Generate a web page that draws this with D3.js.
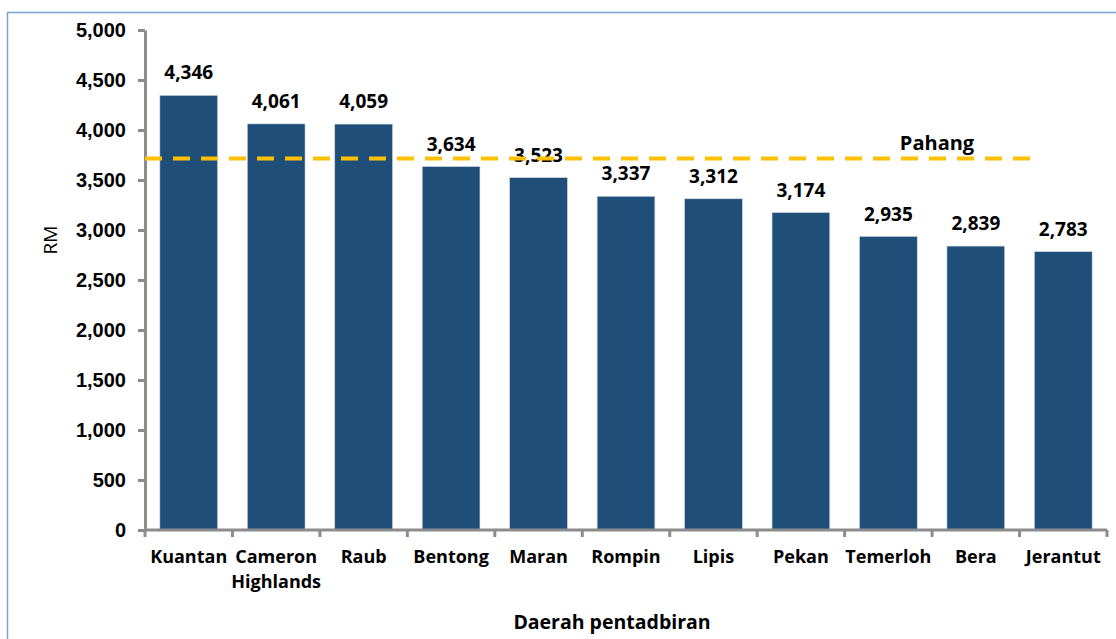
<!DOCTYPE html>
<html>
<head>
<meta charset="utf-8">
<script src="https://cdn.jsdelivr.net/npm/d3@7"></script>
<style>
  body { margin: 0; background: #fff; }
  svg { display: block; font-family: "Open Sans", Lato, sans-serif; }
</style>
</head>
<body>
<div id="chart"></div>
<script>
// data
const districts = ["Kuantan", "Cameron Highlands", "Raub", "Bentong", "Maran", "Rompin",
    "Lipis", "Pekan", "Temerloh", "Bera", "Jerantut"];
const income = [4346, 4061, 4059, 3634, 3523, 3337, 3312, 3174, 2935, 2839, 2783];
const pahangValue = 3715;
const pahangLabel = "Pahang";
const yTicks = [0, 500, 1000, 1500, 2000, 2500, 3000, 3500, 4000, 4500, 5000];

const width = 1116, height = 639;
const margin = { top: 30, left: 145, right: 9, bottom: 109 };
const innerW = width - margin.left - margin.right;
const innerH = height - margin.top - margin.bottom;

const svg = d3.select("#chart").append("svg")
    .attr("width", width)
    .attr("height", height);

// outer frame
svg.append("rect")
    .attr("x", 7.5).attr("y", 12.5)
    .attr("width", width).attr("height", height)
    .attr("fill", "none")
    .attr("stroke", "#7aa3d1")
    .attr("stroke-width", 1.5);

const chart = svg.append("g")
    .attr("transform", `translate(${margin.left},${margin.top})`);

const x = d3.scaleBand()
    .domain(districts)
    .range([0, innerW])
    .paddingInner(0.34)
    .paddingOuter(0.17);

const y = d3.scaleLinear()
    .domain([0, 5000])
    .range([innerH, 0]);

// bars
chart.selectAll(".bar")
    .data(districts)
    .join("rect")
    .attr("class", "bar")
    .attr("x", d => x(d))
    .attr("y", (d, i) => y(income[i]))
    .attr("width", x.bandwidth())
    .attr("height", (d, i) => innerH - y(income[i]))
    .attr("fill", "#1f4e79")
    .attr("stroke", "#c9d3e0")
    .attr("stroke-width", 0.6);

// value labels
chart.selectAll(".val")
    .data(districts)
    .join("text")
    .attr("class", "val")
    .attr("x", d => x(d) + x.bandwidth() / 2)
    .attr("y", (d, i) => y(income[i]) - 16)
    .attr("text-anchor", "middle")
    .style("font-size", "19px")
    .style("font-weight", "bold")
    .text((d, i) => d3.format(",")(income[i]));

// y axis
const yAxis = d3.axisLeft(y)
    .tickValues(yTicks)
    .tickFormat(d3.format(","))
    .tickSize(7)
    .tickSizeOuter(0)
    .tickPadding(12);

const yAxisGroup = chart.append("g").call(yAxis);
yAxisGroup.selectAll("text")
    .style("font-size", "20px")
    .style("font-weight", "bold")
    .attr("fill", "#000");
yAxisGroup.selectAll("line, path")
    .attr("stroke", "#8c8c8c")
    .attr("stroke-width", 3);

// x axis: ticks at the band boundaries
const boundaries = d3.range(districts.length + 1).map(i => i * innerW / districts.length);
const xAxisGroup = chart.append("g")
    .attr("transform", `translate(0,${innerH})`);
xAxisGroup.append("line")
    .attr("x1", 0).attr("x2", innerW)
    .attr("stroke", "#8c8c8c").attr("stroke-width", 3);
xAxisGroup.selectAll(".xtick")
    .data(boundaries)
    .join("line")
    .attr("class", "xtick")
    .attr("x1", d => d).attr("x2", d => d)
    .attr("y1", 0).attr("y2", 7)
    .attr("stroke", "#8c8c8c").attr("stroke-width", 3);

xAxisGroup.selectAll(".xlab")
    .data(districts)
    .join("text")
    .attr("class", "xlab")
    .attr("x", d => x(d) + x.bandwidth() / 2)
    .attr("y", 33)
    .attr("text-anchor", "middle")
    .style("font-size", "18px")
    .style("font-weight", "bold")
    .each(function(d) {
        const words = d.split(" ");
        d3.select(this).selectAll("tspan")
            .data(words)
            .join("tspan")
            .attr("x", x(d) + x.bandwidth() / 2)
            .attr("dy", (w, i) => i === 0 ? 0 : 25)
            .text(w => w);
    });

// Pahang reference line
chart.append("line")
    .attr("x1", 0)
    .attr("x2", 896)
    .attr("y1", y(pahangValue))
    .attr("y2", y(pahangValue))
    .attr("stroke", "#ffc000")
    .attr("stroke-width", 4)
    .attr("stroke-dasharray", "17 11");

chart.append("text")
    .attr("x", 792)
    .attr("y", y(pahangValue) - 9)
    .attr("text-anchor", "middle")
    .style("font-size", "20px")
    .style("font-weight", "bold")
    .text(pahangLabel);

// axis titles
svg.append("text")
    .attr("transform", "translate(57,240) rotate(-90)")
    .attr("text-anchor", "middle")
    .style("font-size", "19px")
    .text("RM");

svg.append("text")
    .attr("x", 612)
    .attr("y", 629)
    .attr("text-anchor", "middle")
    .style("font-size", "19.5px")
    .style("font-weight", "bold")
    .text("Daerah pentadbiran");
</script>
</body>
</html>
